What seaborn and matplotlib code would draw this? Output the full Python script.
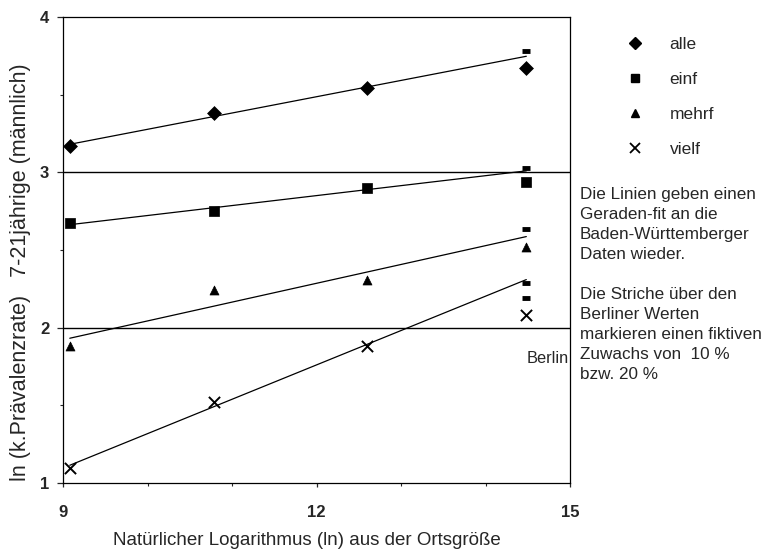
import numpy as np
import pandas as pd
import matplotlib
matplotlib.use("Agg")
import matplotlib.pyplot as plt
import seaborn as sns
from matplotlib.lines import Line2D

# ---- data ----
x_ortsgroesse = [9.08, 10.78, 12.6, 14.48]   # last value = Berlin
alle  = [3.17, 3.38, 3.54, 3.67]
einf  = [2.675, 2.75, 2.90, 2.94]
mehrf = [1.88, 2.24, 2.31, 2.52]
vielf = [1.10, 1.52, 1.88, 2.08]
series_names = ["alle", "einf", "mehrf", "vielf"]
# fictive +10 % / +20 % increase of the Berlin values (short dashes)
berlin_plus = {"alle": [3.78], "einf": [3.03], "mehrf": [2.635], "vielf": [2.19, 2.29]}

x_ticks = [9, 12, 15]
y_ticks = [1, 2, 3, 4]

sns.set_theme(style="white")
plt.rcParams["font.family"] = ["Liberation Sans", "DejaVu Sans"]

fig = plt.figure(figsize=(7.78, 5.49), dpi=100)
ax = fig.add_axes([0.081, 0.120, 0.652, 0.849])

values = {"alle": alle, "einf": einf, "mehrf": mehrf, "vielf": vielf}
rows = []
for name in series_names:
    for xv, yv in zip(x_ortsgroesse, values[name]):
        rows.append({"x": xv, "y": yv, "serie": name})
df = pd.DataFrame(rows)

markers = {"alle": "D", "einf": "s", "mehrf": "^", "vielf": "x"}
sizes = {"alle": 50, "einf": 50, "mehrf": 42, "vielf": 65}

# horizontal grid lines at 2 and 3
for yv in [2, 3]:
    ax.axhline(yv, color="black", lw=1.0, zorder=1)

for name in series_names:
    sub = df[df.serie == name]
    if name == "vielf":
        sns.scatterplot(data=sub, x="x", y="y", marker="x", s=sizes[name], color="black",
                        linewidth=1.4, ax=ax, legend=False, zorder=3)
    else:
        sns.scatterplot(data=sub, x="x", y="y", marker=markers[name], s=sizes[name],
                        color="black", edgecolor="black", linewidth=0.5, ax=ax,
                        legend=False, zorder=3)
    # straight-line fit to the Baden-Württemberg points (first three)
    xb = np.array(x_ortsgroesse[:3])
    yb = np.array(values[name][:3])
    k, d = np.polyfit(xb, yb, 1)
    xs = np.array([x_ortsgroesse[0], x_ortsgroesse[-1]])
    fit = pd.DataFrame({"x": xs, "y": k * xs + d})
    sns.lineplot(data=fit, x="x", y="y", color="black", lw=0.9, ax=ax, zorder=2)
    # Berlin dashes
    for yp in berlin_plus[name]:
        ax.plot([x_ortsgroesse[-1]], [yp], marker="_", ms=6, mew=3.5, color="black",
                linestyle="none", zorder=3)

ax.set_xlim(9, 15)
ax.set_ylim(1, 4)
ax.set_xticks(x_ticks)
ax.set_yticks(y_ticks)
ax.set_xticks(np.arange(9, 15.01, 1), minor=True)
ax.set_yticks(np.arange(1, 4.01, 0.5), minor=True)
ax.set_xticklabels([str(t) for t in x_ticks], fontweight="bold", fontsize=12)
ax.set_yticklabels([str(t) for t in y_ticks], fontweight="bold", fontsize=12)
ax.tick_params(axis="y", which="major", direction="out", length=4, width=0.9, pad=6, left=True)
ax.tick_params(axis="y", which="minor", direction="out", length=2.5, width=0.8, left=True)
ax.tick_params(axis="x", which="major", direction="out", length=3, width=0.9, pad=13, bottom=True)
ax.tick_params(axis="x", which="minor", direction="out", length=2, width=0.8, bottom=True)
ax.set_xlabel("")
ax.set_ylabel("")
for sp in ax.spines.values():
    sp.set_visible(True)
    sp.set_color("black")
    sp.set_linewidth(0.9)

ax.text(14.48, 1.80, "Berlin", fontsize=11.8, ha="left", va="center")

fig.text(0.395, 0.016, "Natürlicher Logarithmus (ln) aus der Ortsgröße",
         fontsize=13.5, ha="center", va="center")
fig.text(0.026, 0.505, "ln (k.Prävalenzrate)   7-21jährige (männlich)",
         fontsize=15.5, ha="center", va="center", rotation=90)

# legend on the right
handles = [
    Line2D([], [], marker="D", color="black", linestyle="none", markersize=6),
    Line2D([], [], marker="s", color="black", linestyle="none", markersize=6),
    Line2D([], [], marker="^", color="black", linestyle="none", markersize=5.5),
    Line2D([], [], marker="x", color="black", linestyle="none", markersize=7, mew=1.3),
]
fig.legend(handles, series_names, loc="upper left", bbox_to_anchor=(0.796, 0.946),
           frameon=False, fontsize=12.5, handlelength=1.0, handletextpad=1.49,
           labelspacing=1.14, borderaxespad=0)

note = ("Die Linien geben einen\nGeraden-fit an die\nBaden-Württemberger\nDaten wieder.\n\n"
        "Die Striche über den\nBerliner Werten\nmarkieren einen fiktiven\nZuwachs von  10 %\nbzw. 20 %")
fig.text(0.745, 1 - 187 / 549, note, fontsize=12.3, ha="left", va="top",
         linespacing=1.42)

fig.savefig("out.png", dpi=100)
